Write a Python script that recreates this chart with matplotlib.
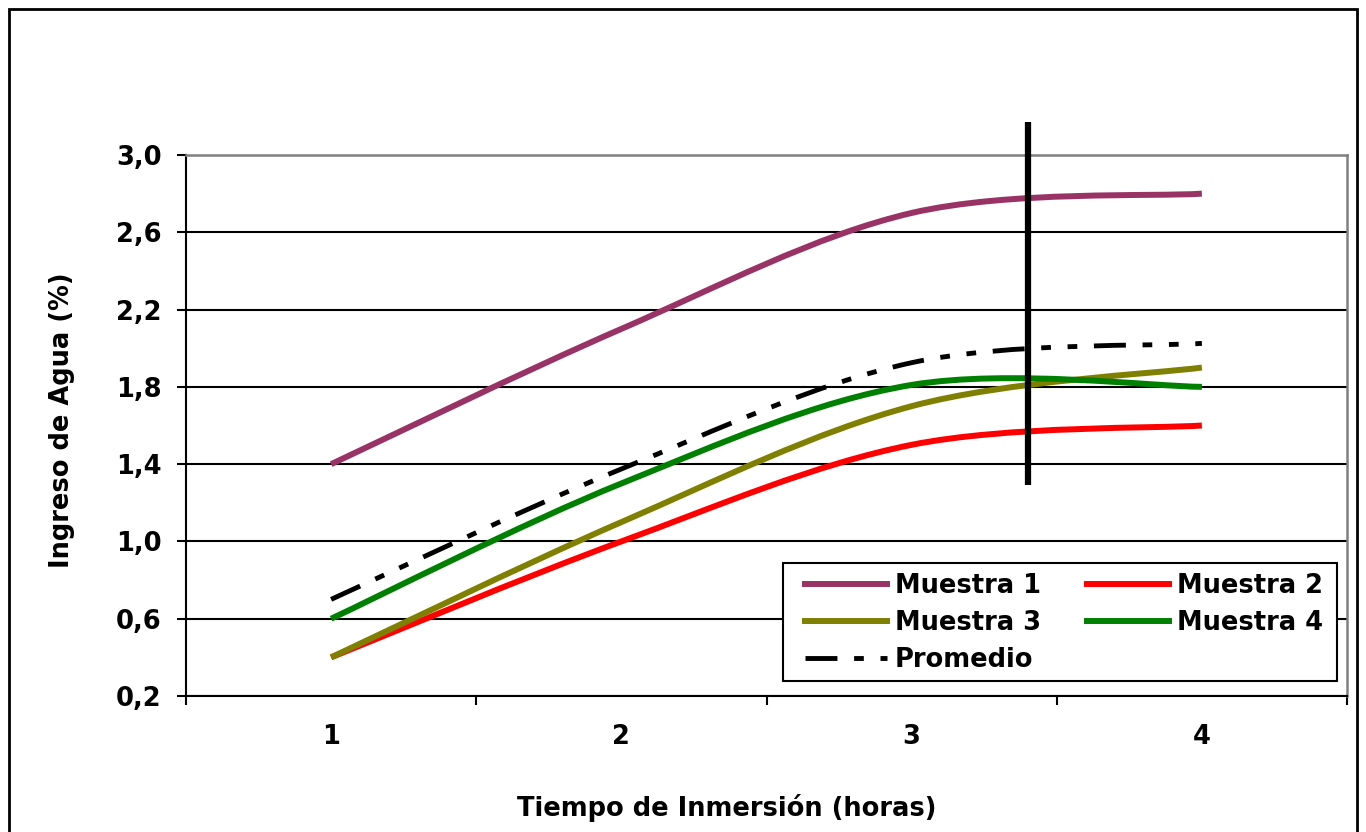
import numpy as np
import matplotlib
matplotlib.use("Agg")
import matplotlib.pyplot as plt
from matplotlib.path import Path
from matplotlib.patches import PathPatch, Rectangle
from matplotlib.lines import Line2D

plt.rcParams['font.family'] = ['DejaVu Sans']
plt.rcParams['font.weight'] = 'bold'
plt.rcParams['lines.scale_dashes'] = False

# horas de inmersion y porcentaje de agua absorbida
horas = [1, 2, 3, 4]
muestra_1 = [1.40, 2.10, 2.70, 2.80]
muestra_2 = [0.40, 1.00, 1.50, 1.60]
muestra_3 = [0.40, 1.10, 1.70, 1.90]
muestra_4 = [0.60, 1.30, 1.81, 1.80]
promedio = [0.70, 1.375, 1.925, 2.025]

y_ticks = [0.2, 0.6, 1.0, 1.4, 1.8, 2.2, 2.6, 3.0]
y_labels = ['0,2', '0,6', '1,0', '1,4', '1,8', '2,2', '2,6', '3,0']

# linea vertical de referencia dibujada sobre el grafico
ref_x = 3.4
ref_y = (1.29, 3.17)

series = [
    ('Muestra 1', muestra_1, '#993366', '-'),
    ('Muestra 2', muestra_2, '#FF0000', '-'),
    ('Muestra 3', muestra_3, '#808000', '-'),
    ('Muestra 4', muestra_4, '#008000', '-'),
    ('Promedio', promedio, 'black', (0, (23, 12, 7, 12, 7, 12))),
]


def smooth_path(xs, ys):
    # curva suavizada (catmull-rom -> bezier) como las lineas suavizadas de excel
    pts = np.column_stack([xs, ys]).astype(float)
    n = len(pts)
    verts = [pts[0]]
    codes = [Path.MOVETO]
    for i in range(n - 1):
        p0 = pts[max(i - 1, 0)]
        p1 = pts[i]
        p2 = pts[i + 1]
        p3 = pts[min(i + 2, n - 1)]
        c1 = p1 + (p2 - p0) / 6.0
        c2 = p2 - (p3 - p1) / 6.0
        verts += [c1, c2, p2]
        codes += [Path.CURVE4] * 3
    return Path(verts, codes)


fig = plt.figure(figsize=(13.66, 8.32), dpi=100)
ax = fig.add_axes([186 / 1366, 1 - 696 / 832, (1347 - 186) / 1366, (696 - 155) / 832])

handles = {}
for name, vals, color, ls in series:
    lw = 3.5 if name == 'Promedio' else 4.3
    patch = PathPatch(smooth_path(horas, vals), transform=ax.transData,
                      fill=False, edgecolor=color, lw=lw, linestyle=ls,
                      capstyle='butt', joinstyle='round', zorder=3)
    ax.add_patch(patch)
    handles[name] = Line2D([], [], color=color, lw=lw, linestyle=ls,
                           dash_capstyle='butt', label=name)

ax.plot([ref_x, ref_x], ref_y, color='black', lw=4.5, clip_on=False,
        solid_capstyle='butt', zorder=5)

ax.set_xlim(0.5, 4.5)
ax.set_ylim(0.2, 3.0)
ax.set_xticks(horas)
ax.set_xticklabels([str(h) for h in horas])
ax.set_xticks(np.arange(0.5, 5.0, 1.0), minor=True)
ax.tick_params(axis='x', which='major', length=0, pad=20, labelsize=18.5)
ax.tick_params(axis='x', which='minor', length=6.5, width=1.5, direction='out')
ax.set_yticks(y_ticks)
ax.set_yticklabels(y_labels)
ax.tick_params(axis='y', length=6.5, width=1.5, direction='out', pad=11,
               labelsize=18.5)

ax.yaxis.grid(True, color='black', lw=1.5)
ax.set_axisbelow(True)
for side in ['left', 'bottom']:
    ax.spines[side].set_color('black')
    ax.spines[side].set_linewidth(1.5)
for side in ['top', 'right']:
    ax.spines[side].set_color('#808080')
    ax.spines[side].set_linewidth(1.8)

# caja de la leyenda y leyenda en filas (1 2 / 3 4 / promedio)
ax.add_patch(Rectangle((0.5142, 0.0277), 0.9914 - 0.5142, 0.2458 - 0.0277,
                       transform=ax.transAxes, facecolor='white',
                       edgecolor='black', lw=1.5, zorder=5))
order = ['Muestra 1', 'Muestra 3', 'Promedio', 'Muestra 2', 'Muestra 4']
leg = ax.legend(handles=[handles[k] for k in order], ncol=2, loc='upper left',
                bbox_to_anchor=(0.5332, 0.2274), borderaxespad=0, borderpad=0,
                prop={'size': 18.5, 'weight': 'bold'}, handlelength=3.2,
                handletextpad=0.3, columnspacing=1.78, labelspacing=0.42,
                frameon=False)
leg.set_zorder(6)

fig.text(62 / 1366, 1 - 420 / 832, 'Ingreso de Agua (%)', rotation=90,
         ha='center', va='center', fontsize=18.5, fontweight='bold')
fig.text(727 / 1366, 1 - 808 / 832, 'Tiempo de Inmersión (horas)',
         ha='center', va='center', fontsize=18.5, fontweight='bold')

# marco exterior del grafico
fig.patches.append(Rectangle((9 / 1366, -0.05), (1357 - 9) / 1366, 1.05 - 9.5 / 832,
                             transform=fig.transFigure, fill=False,
                             edgecolor='black', lw=2, zorder=0))

fig.savefig('out.png', dpi=100)
